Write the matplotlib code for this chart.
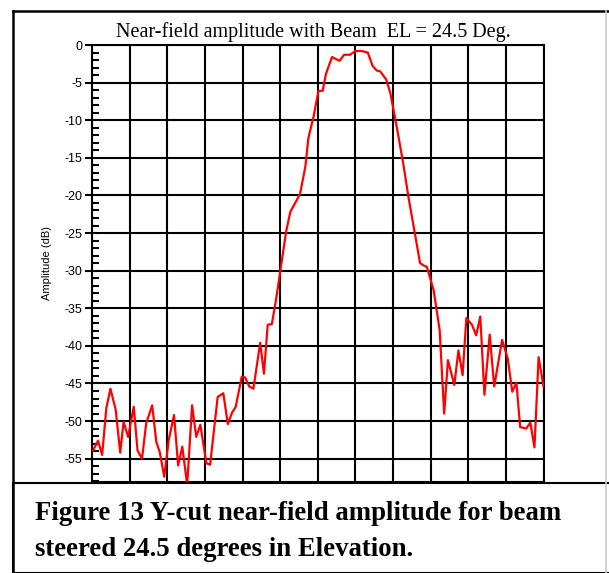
import matplotlib.pyplot as plt
from matplotlib.ticker import MultipleLocator
from matplotlib.patches import Rectangle
from matplotlib.lines import Line2D

plt.rcParams['axes.unicode_minus'] = False

# position along the cut, in grid divisions (no labels shown on the x axis)
pos = [0.03, 0.16, 0.27, 0.38, 0.49, 0.63, 0.75, 0.84, 0.96, 1.11,
       1.21, 1.33, 1.44, 1.60, 1.71, 1.80, 1.92, 2.04, 2.18, 2.29,
       2.40, 2.53, 2.66, 2.77, 2.88, 3.04, 3.14, 3.34, 3.49, 3.61,
       3.72, 3.82, 3.98, 4.07, 4.18, 4.29, 4.47, 4.57, 4.67, 4.78,
       4.89, 5.00, 5.16, 5.27, 5.53, 5.67, 5.75, 5.89, 6.02, 6.13,
       6.22, 6.38, 6.58, 6.70, 6.86, 7.00, 7.17, 7.33, 7.46, 7.57,
       7.66, 7.82, 7.93, 8.10, 8.28, 8.41, 8.59, 8.72, 8.81, 8.90,
       9.08, 9.24, 9.36, 9.46, 9.63, 9.74, 9.85, 9.95, 10.10, 10.21,
       10.32, 10.43, 10.57, 10.69, 10.90, 11.05, 11.17, 11.28, 11.38, 11.54,
       11.65, 11.76, 11.87, 12.00]
amp_db = [-53.9, -52.6, -54.5, -48.3, -45.7, -48.5, -54.2, -50.1, -52.1, -48.1,
          -53.9, -55.0, -50.3, -47.9, -52.8, -54.1, -57.4, -52.5, -49.2, -55.9,
          -53.4, -58.5, -47.9, -52.1, -50.5, -55.6, -55.8, -46.8, -46.3, -50.4,
          -48.9, -48.1, -44.1, -44.2, -45.4, -45.7, -39.6, -43.7, -37.2, -37.1,
          -33.9, -30.2, -24.8, -22.2, -19.8, -16.2, -12.4, -9.5, -6.1, -6.1,
          -3.8, -1.6, -2.1, -1.3, -1.3, -0.8, -0.8, -1.0, -2.8, -3.4,
          -3.5, -4.6, -6.4, -10.9, -16.0, -20.2, -25.3, -29.0, -29.3, -29.5,
          -32.6, -37.9, -49.0, -41.9, -45.2, -40.6, -43.9, -36.3, -37.2, -38.6,
          -36.1, -46.5, -38.5, -45.4, -39.2, -41.7, -46.1, -44.9, -50.8, -51.0,
          -50.2, -53.5, -41.5, -45.4]

y_ticks = list(range(0, -60, -5))

fig = plt.figure(figsize=(6.09, 5.73), dpi=100)
W, H = 609, 573

ax = fig.add_axes([92 / W, 1 - 482 / H, (543.5 - 92) / W, (482 - 45) / H])
ax.plot(pos, amp_db, color='#ff0000', lw=1.6, zorder=3)
ax.set_xlim(0, 12)
ax.set_ylim(-58.1, 0)
ax.set_xticks(range(13))
ax.set_yticks(y_ticks)
ax.set_yticklabels([str(t) for t in y_ticks], family='Liberation Sans', fontsize=9)
ax.yaxis.set_minor_locator(MultipleLocator(1))
ax.tick_params(axis='x', length=0, labelbottom=False)
ax.tick_params(axis='y', which='major', direction='out', length=5, width=1.5, pad=2)
ax.tick_params(axis='y', which='minor', direction='in', length=5, width=1.5)
ax.grid(True, which='major', color='black', lw=1.5)
for s in ax.spines.values():
    s.set_linewidth(1.5)
ax.set_ylabel('Amplitude (dB)', family='Liberation Sans', fontsize=8)
ax.yaxis.set_label_coords((52 - 92) / (543.5 - 92), 0.5)

fig.text(313 / W, 1 - 32 / H, 'Near-field amplitude with Beam  EL = 24.5 Deg.',
         ha='center', va='center', family='Liberation Serif', fontsize=14.5)

# caption box covering the bottom of the plot
fig.patches.append(Rectangle((13 / W, 0), 1, (H - 483) / H, transform=fig.transFigure,
                             facecolor='white', edgecolor='black', lw=1.5, zorder=5))
fig.text(35 / W, 1 - 520 / H, 'Figure 13 Y-cut near-field amplitude for beam',
         ha='left', va='baseline', family='Liberation Serif', fontweight='bold',
         fontsize=19.3, zorder=6)
fig.text(35 / W, 1 - 556 / H, 'steered 24.5 degrees in Elevation.',
         ha='left', va='baseline', family='Liberation Serif', fontweight='bold',
         fontsize=19.3, zorder=6)

# outer frame
fig.lines.append(Line2D([13 / W, 13 / W], [0, 1 - 11 / H], transform=fig.transFigure,
                        color='black', lw=1.8, zorder=6))
fig.lines.append(Line2D([13 / W, 1], [1 - 11 / H, 1 - 11 / H], transform=fig.transFigure,
                        color='black', lw=1.8, zorder=6))
fig.lines.append(Line2D([606 / W, 606 / W], [0, 1 - 11 / H], transform=fig.transFigure,
                        color='#c8c8c8', lw=1.2, zorder=6))

fig.savefig('out.png', dpi=100)
